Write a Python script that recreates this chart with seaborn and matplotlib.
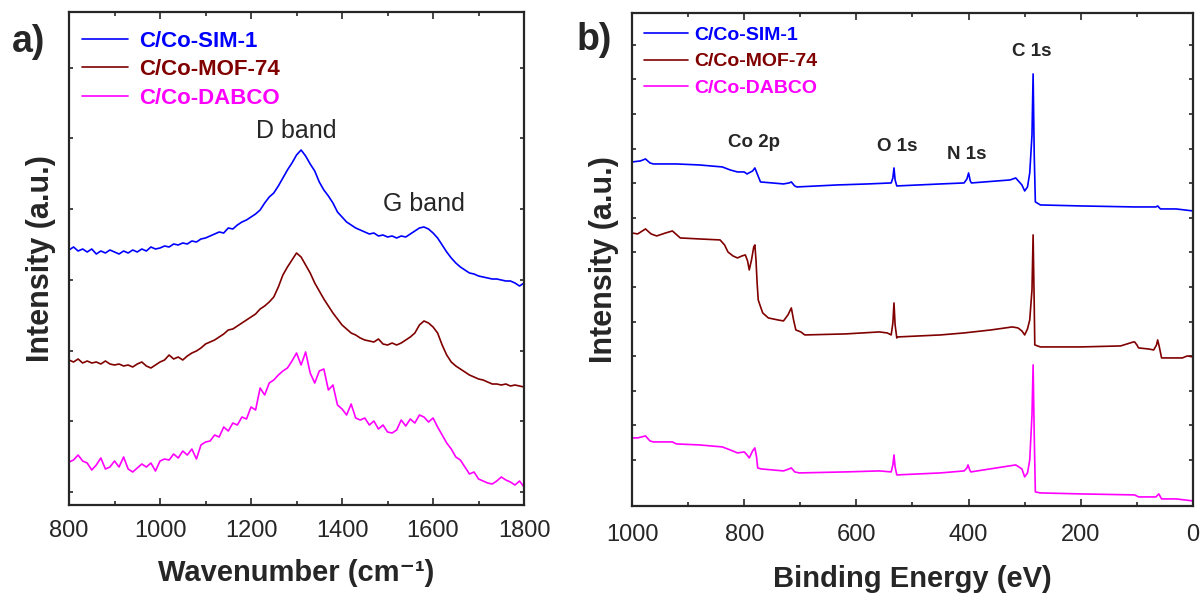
import numpy as np
import pandas as pd
import matplotlib
matplotlib.use("Agg")
import matplotlib.pyplot as plt
from matplotlib.ticker import MultipleLocator
import seaborn as sns

# ---------------- data ----------------
series_names = ["C/Co-SIM-1", "C/Co-MOF-74", "C/Co-DABCO"]
series_colors = ["#0000FF", "#800000", "#FF00FF"]

# Raman (panel a)
wavenumber = list(range(800, 1801, 10))
raman_sim1 = [255, 258, 254, 256, 253, 256, 251, 254, 252, 255, 253, 251, 254, 252, 255, 253, 256, 254, 258, 256,
              257, 259, 258, 261, 260, 262, 261, 264, 263, 266, 267, 269, 271, 273, 272, 277, 276, 280, 283, 285,
              288, 291, 295, 302, 308, 312, 319, 327, 335, 342, 350, 355, 349, 341, 334, 323, 315, 309, 302, 293,
              288, 283, 280, 277, 275, 273, 271, 272, 269, 270, 268, 269, 267, 269, 268, 271, 274, 277, 278, 276,
              272, 267, 260, 253, 247, 242, 238, 235, 232, 231, 229, 228, 227, 226, 226, 225, 224, 224, 222, 219,
              222]
raman_mof74 = [145, 143, 146, 142, 144, 142, 143, 141, 144, 141, 140, 141, 139, 140, 138, 141, 143, 139, 137, 140,
               143, 145, 150, 146, 148, 145, 149, 152, 154, 157, 161, 163, 165, 168, 171, 175, 176, 179, 182, 185,
               188, 191, 196, 199, 203, 208, 218, 230, 238, 245, 252, 248, 240, 232, 222, 214, 206, 199, 192, 186,
               180, 176, 172, 170, 167, 165, 164, 163, 166, 161, 160, 162, 160, 162, 165, 168, 172, 180, 184, 182,
               178, 172, 160, 150, 143, 139, 136, 133, 130, 128, 126, 125, 123, 121, 121, 120, 121, 119, 120, 119,
               118]
raman_dabco = [43, 45, 50, 44, 42, 35, 40, 47, 36, 38, 44, 38, 48, 36, 33, 37, 41, 38, 42, 34,
               44, 46, 45, 51, 47, 54, 50, 56, 46, 60, 63, 64, 70, 68, 78, 74, 82, 80, 88, 86,
               98, 95, 117, 110, 122, 125, 130, 134, 137, 144, 152, 140, 153, 132, 122, 134, 136, 115, 120, 100,
               96, 90, 101, 87, 85, 87, 80, 84, 76, 80, 73, 72, 75, 85, 79, 86, 82, 90, 88, 83,
               87, 78, 70, 62, 56, 48, 45, 38, 31, 33, 26, 24, 22, 21, 24, 28, 25, 23, 20, 24,
               18]

# XPS survey (panel b)
be_sim1 = [1000, 985, 976, 968, 962, 921, 880, 839, 825, 812, 800, 795, 785, 781, 776, 771, 750, 730, 720, 716,
           710, 706, 634, 580, 538, 535, 533, 531, 528, 450, 408, 403, 400, 397, 395, 326, 316, 305, 300, 295,
           291, 287, 285, 283, 281, 272, 200, 104, 66, 63, 58, 56, 30, 0]
xps_sim1 = [343, 344, 346, 342, 341, 341, 340, 338, 335, 333, 333, 331, 334, 337, 330, 323, 322, 321, 322, 323,
            319, 318, 320, 321, 322, 327, 337, 325, 319, 321, 322, 326, 332, 324, 322, 325, 327, 320, 314, 318,
            332, 370, 431, 350, 303, 300, 299, 298, 298, 299, 296, 296, 296, 294]

be_mof74 = [1000, 990, 976, 966, 956, 940, 928, 920, 914, 880, 843, 835, 829, 820, 812, 804, 798, 794, 791, 787,
            783, 781, 779, 777, 775, 772, 767, 757, 740, 730, 722, 716, 712, 708, 699, 692, 620, 559, 545, 538,
            535, 533, 531, 528, 526, 450, 408, 360, 322, 312, 305, 300, 295, 291, 287, 285, 283, 282, 272, 200,
            129, 106, 104, 100, 97, 80, 70, 65, 63, 60, 56, 30, 19, 10, 0]
xps_mof74 = [272, 271, 276, 271, 269, 272, 274, 270, 267, 266, 265, 260, 253, 249, 247, 249, 250, 244, 235, 245,
             258, 260, 245, 222, 205, 200, 192, 187, 185, 184, 190, 197, 185, 175, 173, 170, 171, 173, 172, 170,
             182, 202, 180, 167, 168, 170, 172, 175, 178, 177, 174, 170, 176, 185, 215, 270, 200, 160, 158, 158,
             159, 163, 163, 160, 157, 156, 155, 160, 165, 158, 147, 147, 147, 149, 148]

be_dabco = [1000, 990, 976, 968, 962, 928, 921, 880, 839, 825, 812, 800, 795, 791, 785, 781, 778, 776, 770, 730,
            720, 716, 710, 702, 620, 559, 538, 535, 533, 531, 528, 450, 408, 403, 401, 398, 396, 316, 305, 300,
            295, 291, 287, 285, 283, 281, 272, 200, 104, 97, 66, 61, 56, 30, 0]
xps_dabco = [67, 67, 69, 64, 63, 63, 61, 60, 58, 55, 52, 53, 50, 47, 54, 57, 48, 37, 36, 34,
             36, 37, 33, 32, 33, 34, 33, 40, 50, 38, 30, 32, 34, 37, 40, 35, 33, 40, 36, 28,
             32, 45, 90, 140, 70, 13, 12, 11, 10, 8, 8, 11, 6, 6, 4]

raman_peaks = ["D band", "G band"]
raman_peak_pos = [1300, 1580]
xps_peaks = ["Co 2p", "O 1s", "N 1s", "C 1s"]
xps_peak_pos = [783, 528, 404, 288]

# ---------------- style ----------------
sns.set_style("ticks")
plt.rcParams["font.family"] = ["Liberation Sans", "DejaVu Sans"]

fig = plt.figure(figsize=(12.02, 6.03), dpi=100)
ax1 = fig.add_axes([0.0574, 0.1625, 0.3786, 0.8168])
ax2 = fig.add_axes([0.5258, 0.1610, 0.4667, 0.8180])

raman_df = pd.concat([
    pd.DataFrame({"x": wavenumber, "y": vals, "s": name})
    for name, vals in zip(series_names, [raman_sim1, raman_mof74, raman_dabco])
])
xps_df = pd.concat([
    pd.DataFrame({"x": be, "y": vals, "s": name})
    for name, be, vals in zip(series_names, [be_sim1, be_mof74, be_dabco], [xps_sim1, xps_mof74, xps_dabco])
])
palette = dict(zip(series_names, series_colors))

sns.lineplot(data=raman_df, x="x", y="y", hue="s", palette=palette, sort=False,
             estimator=None, lw=1.2, ax=ax1)
sns.lineplot(data=xps_df, x="x", y="y", hue="s", palette=palette, sort=False,
             estimator=None, lw=1.2, ax=ax2)

# axes a
ax1.set_xlim(800, 1800)
ax1.set_ylim(0, 492.5)
ax1.xaxis.set_major_locator(MultipleLocator(200))
ax1.xaxis.set_minor_locator(MultipleLocator(100))
ax1.set_yticks(np.arange(13, 492, 70.7))
# axes b
ax2.set_xlim(1000, 0)
ax2.set_ylim(-1, 492.3)
ax2.xaxis.set_major_locator(MultipleLocator(200))
ax2.xaxis.set_minor_locator(MultipleLocator(100))
ax2.set_yticks(np.arange(45, 492, 34.6))

for ax in (ax1, ax2):
    ax.set_yticklabels([])
    ax.tick_params(which="both", direction="in", top=True, right=True, width=1.2)
    ax.tick_params(which="major", length=5, labelsize=17)
    ax.tick_params(which="minor", length=3)
    ax.tick_params(axis="y", which="major", length=3)
    for sp in ax.spines.values():
        sp.set_linewidth(1.6)

ax1.tick_params(axis="x", which="major", pad=11)
ax2.tick_params(axis="x", which="major", pad=13)
ax1.set_ylabel("Intensity (a.u.)", fontsize=22, fontweight="bold", labelpad=6)
ax2.set_ylabel("Intensity (a.u.)", fontsize=22, fontweight="bold", labelpad=6)
ax1.set_xlabel("Wavenumber (cm\u207b\u00b9)", fontsize=21, fontweight="bold", labelpad=12)
ax2.set_xlabel("Binding Energy (eV)", fontsize=21, fontweight="bold", labelpad=14)

ax1.legend(loc="upper left", bbox_to_anchor=(0.019, 0.9716), frameon=False,
           prop={"weight": "bold", "size": 16}, labelcolor="linecolor",
           handlelength=2.07, handletextpad=0.5, labelspacing=0.33,
           borderaxespad=0.0, borderpad=0.2)
ax2.legend(loc="upper left", bbox_to_anchor=(0.0143, 0.980), frameon=False,
           prop={"weight": "bold", "size": 14}, labelcolor="linecolor",
           handlelength=2.27, handletextpad=0.3, labelspacing=0.45,
           borderaxespad=0.0, borderpad=0.2)

# peak labels
ax1.text(raman_peak_pos[0], 374, raman_peaks[0], fontsize=18, ha="center", va="center")
ax1.text(raman_peak_pos[1], 301, raman_peaks[1], fontsize=18, ha="center", va="center")
for name, pos, yy in zip(xps_peaks, xps_peak_pos, [362, 358, 350, 453]):
    ax2.text(pos, yy, name, fontsize=13.5, fontweight="bold", ha="center", va="center")

fig.text(0.024, 0.93, "a)", fontsize=27, fontweight="bold", ha="center", va="center")
fig.text(0.494, 0.933, "b)", fontsize=27, fontweight="bold", ha="center", va="center")

fig.savefig("out.png", dpi=100)
